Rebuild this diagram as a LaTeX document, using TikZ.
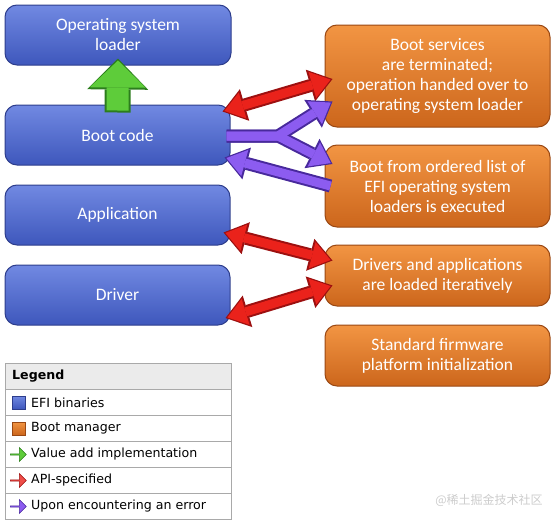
\documentclass[tikz,border=0pt]{standalone}
\usepackage{fontspec}
\setmainfont{Carlito}
\newfontfamily\legendfont{DejaVu Sans}
\newfontfamily\cjkfont{Noto Sans CJK SC}
\usetikzlibrary{arrows.meta,calc,shapes.arrows}

\definecolor{efitop}{HTML}{7189E2}
\definecolor{efibot}{HTML}{3E57BC}
\definecolor{efiedge}{HTML}{2D3D8C}
\definecolor{mgrtop}{HTML}{F29543}
\definecolor{mgrbot}{HTML}{CC661C}
\definecolor{mgredge}{HTML}{9A4813}
\definecolor{apired}{HTML}{EA221B}
\definecolor{apiedge}{HTML}{9C1010}
\definecolor{errpurple}{HTML}{8C5CF0}
\definecolor{erredge}{HTML}{48299C}
\definecolor{valgreen}{HTML}{5ECC3A}
\definecolor{valedge}{HTML}{2C7D1D}
\definecolor{gridgray}{HTML}{A9A9A9}
\definecolor{headgray}{HTML}{EBEBEB}

\tikzset{
  efibox/.style={draw=efiedge, line width=1pt, rounded corners=12pt,
    top color=efitop, bottom color=efibot, text=white, inner sep=0pt,
    minimum width=225pt, minimum height=60pt, align=center,
    font=\fontsize{17.5}{20}\selectfont},
  mgrbox/.style={efibox, draw=mgredge, top color=mgrtop, bottom color=mgrbot},
  outerpass/.style={line width=13pt, arrows={Triangle[length=23pt,width=33pt,line width=0pt]-Triangle[length=23pt,width=33pt,line width=0pt]}},
  innerpass/.style={line width=9pt, shorten <=2pt, shorten >=2pt,
    arrows={Triangle[length=19pt,width=27pt,line width=0pt]-Triangle[length=19pt,width=27pt,line width=0pt]}},
  oneout/.style={line width=13pt, arrows={-Triangle[length=23pt,width=33pt,line width=0pt]}},
  onein/.style={line width=9pt, shorten >=2pt,
    arrows={-Triangle[length=19pt,width=27pt,line width=0pt]}},
  legtext/.style={anchor=west, inner sep=0pt, font=\legendfont\fontsize{12.6}{15}\selectfont},
  legicon/.style={single arrow, inner sep=0pt, minimum width=14pt, minimum height=16pt,
    single arrow head extend=3pt, line width=0.6pt}
}

\begin{document}
\begin{tikzpicture}[x=1pt,y=-1pt]
\useasboundingbox (0,0) rectangle (557,522);

% EFI binaries
\node[efibox, minimum width=226pt] (osl) at (118,35) {Operating system\\loader};
\node[efibox] (boot) at (117.5,135) {Boot code};
\node[efibox] (app) at (117.5,215) {Application};
\node[efibox] (drv) at (117.5,295) {Driver};

% boot manager
\node[mgrbox, minimum height=102pt] (term) at (437.5,76) {Boot services\\are terminated;\\operation handed over to\\operating system loader};
\node[mgrbox, minimum height=82pt] (list) at (437.5,186) {Boot from ordered list of\\EFI operating system\\loaders is executed};
\node[mgrbox, minimum height=61pt] (iter) at (437.5,275.5) {Drivers and applications\\are loaded iteratively};
\node[mgrbox, minimum height=61pt] (std) at (437.5,355.5) {Standard firmware\\platform initialization};

% value add
\draw[valedge, line width=26pt, arrows={-Triangle[length=31pt,width=61pt,line width=0pt]}]
  ($(boot.north)+(0,8)$) -- ($(osl.south)+(0,-7)$);
\draw[valgreen, line width=22pt, shorten >=2pt, shorten <=2pt, arrows={-Triangle[length=27pt,width=56pt,line width=0pt]}]
  ($(boot.north)+(0,8)$) -- ($(osl.south)+(0,-7)$);

% API-specified
\draw[apiedge, outerpass] ($(boot.north east)+(-8,7)$) -- ($(term.west)+(8,3)$);
\draw[apired, innerpass] ($(boot.north east)+(-8,7)$) -- ($(term.west)+(8,3)$);
\draw[apiedge, outerpass] ($(app.south east)+(-7,-13)$) -- ($(iter.west)+(8,-15)$);
\draw[apired, innerpass] ($(app.south east)+(-7,-13)$) -- ($(iter.west)+(8,-15)$);
\draw[apiedge, outerpass] ($(drv.east)+(-5,23)$) -- ($(iter.west)+(8,10)$);
\draw[apired, innerpass] ($(drv.east)+(-5,23)$) -- ($(iter.west)+(8,10)$);

% upon error
\coordinate (fork) at (278,136);
\draw[erredge, oneout] ($(boot.east)+(-4,1)$) -- (fork) -- ($(term.south west)+(8,-26)$);
\draw[erredge, oneout] ($(boot.east)+(-4,1)$) -- (fork) -- ($(list.west)+(8,-22)$);
\draw[erredge, oneout] ($(list.west)+(6,0)$) -- ($(boot.south east)+(-6,-8)$);
\draw[errpurple, onein, shorten <=0pt] ($(boot.east)+(-4,1)$) -- (fork) -- ($(term.south west)+(8,-26)$);
\draw[errpurple, onein, shorten <=0pt] ($(boot.east)+(-4,1)$) -- (fork) -- ($(list.west)+(8,-22)$);
\draw[errpurple, onein] ($(list.west)+(6,0)$) -- ($(boot.south east)+(-6,-8)$);

% legend
\fill[headgray] (5,363) rectangle (231,389);
\draw[gridgray] (5,363) rectangle (231,519);
\foreach \y in {389,415,441,467,493}
  \draw[gridgray] (5,\y) -- (231,\y);
\node[legtext, font=\legendfont\bfseries\fontsize{12.6}{15}\selectfont] (lgdhead) at (12,376.5) {Legend};
\node[draw=efiedge, top color=efitop, bottom color=efibot, minimum size=13pt, inner sep=0pt] (iefi) at (18.5,402.5) {};
\node[draw=mgredge, top color=mgrtop, bottom color=mgrbot, minimum size=13pt, inner sep=0pt] (imgr) at (18.5,428.5) {};
\node[legicon, draw=valedge, fill=valgreen] (ival) at (18,454.5) {};
\node[legicon, draw=apiedge, fill=apired!80!white] (iapi) at (18,480.5) {};
\node[legicon, draw=erredge, fill=errpurple] (ierr) at (18,506.5) {};
\node[legtext] (lgdefi) at (31,402.5) {EFI binaries};
\node[legtext] (lgdmgr) at (31,428.5) {Boot manager};
\node[legtext] (lgdval) at (31,454.5) {Value add implementation};
\node[legtext] (lgdapi) at (31,480.5) {API-specified};
\node[legtext] (lgderr) at (31,506.5) {Upon encountering an error};

\node[text=gray!40, font=\cjkfont\fontsize{12}{14}\selectfont] (wm) at (489,500) {@稀土掘金技术社区};
\end{tikzpicture}
\end{document}
